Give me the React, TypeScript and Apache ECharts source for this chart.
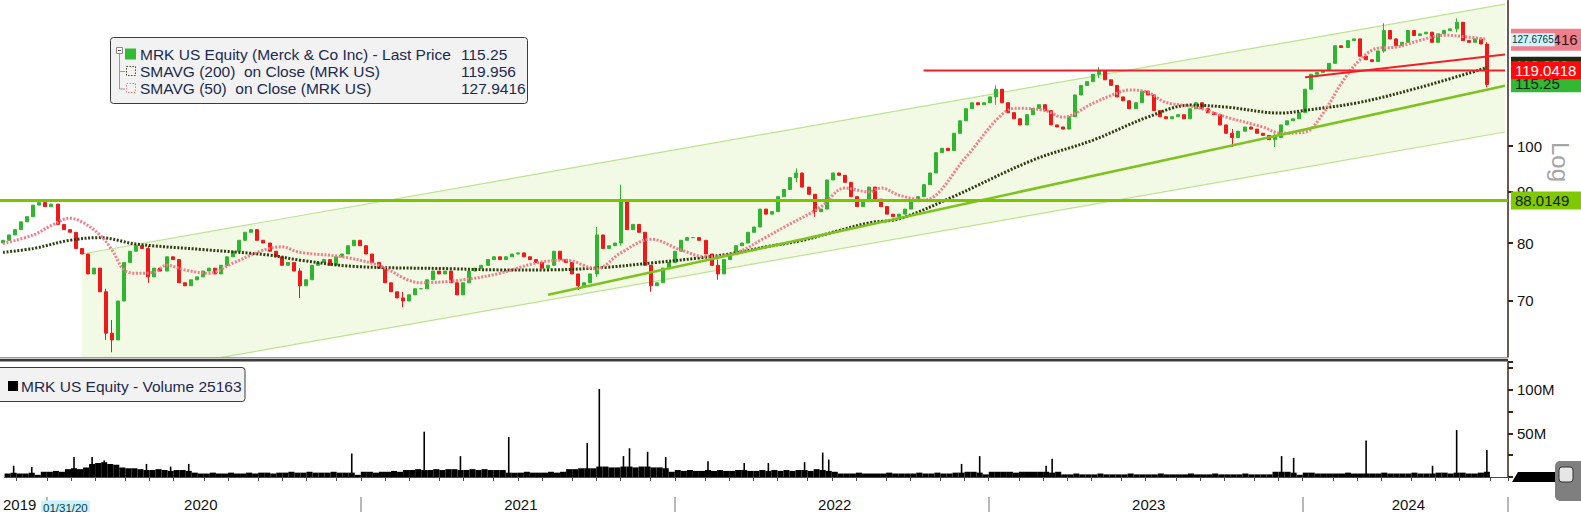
import React, { useEffect, useRef } from 'react';
import * as echarts from 'echarts';

const FONT = "'Liberation Sans', Arial, sans-serif";
const L = (p: number) => Math.log(p);

// ---- categories (weekly, Monday of each week) ----
const startMonday = '2019-11-18';
const categoryCount = 249; // 246 data weeks + 3 empty at the right

// ---- weekly prices (MRK) ----
const firstOpen = 80.0;
const closes = [
  80.5, 81.5, 82.5, 84, 85, 87.3, 87.8, 87, 87.5, 83.5,
  82.5, 82, 79, 78, 74.5, 75.5, 71.5, 65, 64, 70,
  76.5, 78.5, 79.5, 79, 74, 75.5, 75, 77.5, 77, 73,
  72.5, 73.5, 74, 75, 75.5, 74.5, 76, 77.5, 78.5, 80.5,
  82, 82.5, 80.5, 80, 78.5, 77.5, 76, 76.5, 75, 72.5,
  73.5, 76, 76.5, 77, 76, 77.5, 78, 79.5, 80.5, 79.5,
  78, 76.5, 75.5, 73, 71.5, 70.5, 70, 71, 72, 72,
  73.5, 75, 74.5, 75, 73, 71, 73, 75, 75.5, 76,
  77, 77.5, 77, 77.5, 78, 78.2, 77.5, 77, 76.5, 75.5,
  76, 78.5, 77, 76.5, 74.5, 72.5, 73, 74.5, 81.5, 79,
  79.5, 80, 88, 82.5, 83.5, 82, 76, 72.5, 73, 75.5,
  76.5, 78.5, 80.5, 81, 81, 80.5, 78, 76, 74.5, 77,
  78, 79.5, 80, 82, 83, 86.5, 85.5, 86, 89, 90.5,
  93, 94, 91, 89.5, 86, 86.5, 92.5, 94, 93.5, 92,
  89, 87, 88, 91, 88.5, 87, 85.5, 85, 85.5, 86.5,
  88, 89, 91.5, 94, 98.5, 99.5, 99, 103, 106, 109,
  110.5, 110, 110.5, 112, 114, 110.5, 108, 106.5, 105, 107.5,
  109, 110, 108.5, 105, 104.5, 104, 107, 112.5, 115, 116,
  118, 119, 116.5, 115, 112, 111, 109, 110.5, 113.5, 112.5,
  108.5, 107, 106.5, 107, 107.5, 106.5, 109, 110.5, 109, 108,
  107.5, 105, 103, 102, 103.5, 104.5, 104, 103, 102.5, 101.5,
  102, 105, 106, 106.5, 108, 114, 118, 118.5, 119, 121,
  126, 125.5, 127.5, 128, 123, 122, 121.5, 124.5, 130.5, 128,
  126, 127, 130.5, 129, 129.5, 130, 127, 129.5, 130.5, 131,
  133, 127.5, 127, 128, 126.5, 115.25,
];
// [week index, low, high] for weeks with visible wicks
const wickExtremes: [number, number, number][] = [
  [17, 64, 72], [18, 62.2, 67], [24, 73, 79.5], [49, 70.5, 75.5], [66, 69, 71.5],
  [95, 71.8, 74.5], [98, 74, 83], [102, 79.5, 91.5], [107, 71.5, 76], [118, 73.5, 77],
  [131, 92, 95], [134, 85, 89.5], [164, 110, 115], [181, 117, 120], [203, 99.8, 104],
  [210, 99.8, 103], [228, 124, 132.7], [240, 130, 134.2], [245, 114.5, 127],
];

// ---- moving averages: [week index, value] ----
const sma200Pts: [number, number][] = [
  [0, 78.3], [5, 79], [11, 80.5], [16, 81], [22, 79.8], [33, 78.8], [44, 77.8], [49, 76.9],
  [58, 75.8], [74, 75.4], [82, 75.2], [90, 75.2], [99, 75.6], [107, 76.4], [115, 77.3],
  [121, 78.2], [126, 79.3], [132, 80.5], [137, 82], [143, 83.8], [148, 84.6], [156, 88.5],
  [170, 96.8], [180, 101.4], [189, 106.9], [196, 109.9], [202, 109.4], [211, 107.9],
  [215, 108.6], [224, 110.6], [234, 114.5], [245, 119.8],
];
const sma50Pts: [number, number][] = [
  [0, 79.9], [5, 81.5], [8, 83.3], [11, 84.7], [13, 84], [16, 81.5], [18, 78.7], [20, 75.2],
  [22, 74.6], [25, 74.8], [27, 76], [30, 75.2], [34, 74.6], [38, 76.4], [43, 78.7], [46, 79.3],
  [49, 78.3], [56, 77.5], [62, 76], [69, 73], [76, 73.5], [82, 74.6], [88, 76.4], [93, 76.9],
  [98, 75.4], [102, 78.2], [107, 80.7], [112, 78.7], [116, 77.5], [121, 78.2], [126, 81.1],
  [129, 83], [135, 86.9], [139, 90.8], [143, 90], [145, 90.8], [148, 89.3], [152, 88.3],
  [159, 97.5], [164, 106.2], [167, 109.1], [172, 108.6], [175, 106.9], [180, 110.4],
  [184, 113], [186, 113.8], [189, 113.2], [192, 110.6], [197, 109.4], [202, 106.9],
  [208, 104.5], [211, 103], [215, 103.3], [218, 107.9], [221, 115.6], [224, 121.9],
  [227, 125.3], [230, 125.6], [234, 127.6], [238, 129.1], [242, 128.5], [245, 127.9],
];

// ---- volume (millions) ----
const volBase = [
  4, 5, 4, 4, 5, 2.5, 6, 6, 7, 6,
  9, 10, 9, 11, 15, 16, 17, 15, 14, 11,
  10, 10, 9, 8, 8, 9, 8, 7, 8, 8,
  7, 5, 4, 4, 5, 4, 4, 5, 4, 4,
  5, 4, 5, 5, 4, 5, 5, 6, 5, 5,
  6, 5, 5, 5, 6, 5, 5, 5, 2.5, 6,
  6, 5, 6, 6, 7, 6, 8, 8, 9, 8,
  8, 9, 8, 9, 9, 8, 8, 9, 8, 9,
  8, 8, 8, 5, 5, 5, 6, 5, 5, 5,
  6, 5, 6, 9, 9, 10, 10, 10, 12, 12,
  11, 11, 12, 12, 11, 12, 12, 11, 11, 10,
  6, 8, 7, 8, 7, 7, 8, 7, 8, 7,
  7, 8, 8, 7, 7, 8, 7, 8, 7, 8,
  7, 8, 8, 7, 9, 8, 7, 6, 4, 4,
  4, 5, 4, 4, 4, 4, 5, 4, 4, 4,
  4, 5, 4, 4, 5, 4, 4, 5, 5, 6,
  6, 5, 3, 6, 6, 6, 6, 5, 6, 6,
  6, 6, 6, 5, 6, 3, 3, 4, 3, 3,
  3, 4, 3, 3, 3, 3, 4, 3, 3, 3,
  3, 4, 3, 3, 3, 3, 4, 3, 3, 3,
  4, 3, 3, 3, 3, 4, 3, 3, 3, 3,
  6, 6, 6, 5, 2.5, 5, 5, 4, 4, 4,
  4, 4, 5, 4, 4, 4, 4, 4, 5, 4,
  4, 4, 4, 5, 4, 4, 4, 5, 5, 4,
  5, 5, 4, 4, 5, 6,
];
const volSpikes: [number, number][] = [
  [1, 13], [4, 11.5], [11, 23], [14, 23], [16, 19], [23, 15], [27, 12], [30, 15], [57, 27],
  [69, 52], [75, 24], [83, 46], [96, 39], [98, 101], [102, 24], [103, 33], [106, 29], [109, 23],
  [116, 18], [122, 16], [126, 16], [132, 17], [135, 28], [136, 20], [158, 15], [161, 24],
  [172, 13], [173, 21], [211, 24], [213, 22], [225, 42], [236, 13], [240, 54], [245, 31],
];

// ---- drawn studies ----
const channelUpper: [number, number][] = [[13, 78.0], [248, 138.7]];
const channelLower: [number, number][] = [[13, 58.1], [248, 103.3]];
const supportLine: [number, number][] = [[90, 71.0], [248, 114.9]];
const resistanceLine: [number, number][] = [[152, 119.0418], [248, 119.0418]];
const risingRedLine: [number, number][] = [[215, 117.2], [248, 123.5]];
const baseLevel = 88.0149;

// ---- axis ticks / labels ----
const priceTicks = [70, 80, 90, 100];
const priceMin = 61.53;
const priceMax = 140;
const volLabelled = [50, 100];
const yearLabels = ['2019', '2020', '2021', '2022', '2023', '2024'];
const yearLabelWeeks = ['2019-12-02', '2020-06-29', '2021-07-05', '2022-07-04', '2023-07-03', '2024-04-29'];

// ---- right-side value tags (drawn in this order) ----
const valueTags = [
  { value: 115.25, text: '115.25', bg: '#33b833', color: '#0f260f', size: 15 },
  { value: 119.956, text: '119.956', bg: '#1c2a10', color: '#ffffff', size: 15 },
  { value: 119.0418, text: '119.0418', bg: '#ff0a0a', color: '#ffffff', size: 15 },
  { value: 127.9416, text: '127.9416', bg: '#f07f8c', color: '#2a1414', size: 15 },
  { value: 127.6765, text: '127.6765', bg: '#ccf6ff', color: '#10303a', size: 10 },
];

function weekCategories(): string[] {
  const t0 = Date.parse(startMonday + 'T00:00:00Z');
  const out: string[] = [];
  for (let i = 0; i < categoryCount; i++) {
    out.push(new Date(t0 + i * 7 * 86400000).toISOString().slice(0, 10));
  }
  return out;
}

function buildOption() {
  const cats = weekCategories();
  const candleData = closes.map((c, i) => {
    const o = i === 0 ? firstOpen : closes[i - 1];
    let lo = Math.min(o, c);
    let hi = Math.max(o, c);
    const ex = wickExtremes.find((e) => e[0] === i);
    if (ex) {
      lo = Math.min(lo, ex[1]);
      hi = Math.max(hi, ex[2]);
    }
    return [L(o), L(c), L(lo), L(hi)];
  });
  const toLn = (pts: [number, number][]) => pts.map(([i, v]) => [i, L(v)]);
  const chLowerLn = toLn(channelLower);
  const chDiff = channelUpper.map(([i, v], k) => [i, L(v) - L(channelLower[k][1])]);

  const monthTick = (idx: number) => idx > 0 && cats[idx].slice(0, 7) !== cats[idx - 1].slice(0, 7);
  const yearTick = (idx: number) => idx > 0 && cats[idx].slice(0, 4) !== cats[idx - 1].slice(0, 4);
  const yearLabelIdx = (idx: number) => yearLabelWeeks.indexOf(cats[idx]) >= 0;

  const tagLines = [
    ...valueTags.slice(0, 3).map((t) => ({
      yAxis: L(t.value),
      lineStyle: { color: 'rgba(0,0,0,0)', width: 1 },
      label: {
        formatter: t.text, backgroundColor: t.bg, color: t.color, fontSize: t.size,
        padding: [2, 30, 1, 4],
      },
    })),
    {
      yAxis: L(baseLevel),
      lineStyle: { color: '#7cc400', width: 3, type: 'solid' },
      label: {
        formatter: String(baseLevel), backgroundColor: '#80c800', color: '#10200a', fontSize: 15,
        padding: [2, 30, 1, 4],
      },
    },
    ...valueTags.slice(3).map((t) => ({
      yAxis: L(t.value),
      lineStyle: { color: 'rgba(0,0,0,0)', width: 1 },
      label: {
        formatter: t.text, backgroundColor: t.bg, color: t.color, fontSize: t.size,
        padding: t.size < 13 ? [2, 1, 1, 1] : [4, 30, 3, 4],
      },
    })),
  ];

  const txt = (x: number, y: number, text: string, extra: any = {}) => ({
    type: 'text', x, y, z: 101,
    style: { text, fill: '#1c2a50', fontSize: 15.5, fontFamily: FONT, verticalAlign: 'middle', align: 'left', ...extra },
  });

  return {
    animation: false,
    backgroundColor: '#ffffff',
    grid: [
      { left: -2, width: 1510, top: 0, height: 357 },
      { left: -2, width: 1510, top: 362, height: 115 },
    ],
    xAxis: [
      { type: 'category', gridIndex: 0, data: cats, boundaryGap: true, show: false },
      {
        type: 'category', gridIndex: 1, data: cats, boundaryGap: true,
        axisLine: { show: true, lineStyle: { color: '#4a4a4a', width: 1 } },
        axisTick: { show: true, interval: monthTick, length: 4, lineStyle: { color: '#4a4a4a' } },
        axisLabel: { show: false }, splitLine: { show: false },
      },
      {
        type: 'category', gridIndex: 1, data: cats, boundaryGap: true, position: 'bottom', offset: 20,
        axisLine: { show: false },
        axisTick: { show: true, interval: yearTick, length: 16, lineStyle: { color: '#b8b8b8', width: 2 } },
        axisLabel: {
          show: true, interval: yearLabelIdx, margin: 0, fontSize: 15, color: '#111', fontFamily: FONT,
          formatter: (v: string) => {
            const k = yearLabelWeeks.indexOf(v);
            return k >= 0 ? yearLabels[k] : '';
          },
        },
        splitLine: { show: false },
      },
    ],
    yAxis: [
      {
        type: 'value', gridIndex: 0, position: 'right', min: L(priceMin), max: L(priceMax),
        axisLine: { show: true, lineStyle: { color: '#3b2417', width: 1.5 } },
        axisTick: { show: true, customValues: priceTicks.map(L), length: 5, lineStyle: { color: '#3b2417', width: 2 } },
        axisLabel: {
          show: true, customValues: priceTicks.map(L), margin: 9, fontSize: 15, color: '#111', fontFamily: FONT,
          formatter: (v: number) => String(Math.round(Math.exp(v))),
        },
        splitLine: { show: false },
      },
      {
        type: 'value', gridIndex: 1, position: 'right', min: 0, max: 132, interval: 25,
        axisLine: { show: true, lineStyle: { color: '#3b2417', width: 1.5 } },
        axisTick: { show: true, length: 5, lineStyle: { color: '#3b2417', width: 2 } },
        axisLabel: {
          margin: 9, fontSize: 15, color: '#111', fontFamily: FONT,
          formatter: (v: number) => (volLabelled.includes(v) ? v + 'M' : ''),
        },
        splitLine: { show: false },
      },
    ],
    series: [
      {
        name: 'channelLower', type: 'line', xAxisIndex: 0, yAxisIndex: 0, stack: 'channel',
        data: chLowerLn, symbol: 'none', silent: true, z: 1,
        lineStyle: { color: '#bde38f', width: 1.2 },
      },
      {
        name: 'channelUpper', type: 'line', xAxisIndex: 0, yAxisIndex: 0, stack: 'channel',
        data: chDiff, symbol: 'none', silent: true, z: 1,
        lineStyle: { color: '#bde38f', width: 1.2 },
        areaStyle: { color: '#f2f9e5', opacity: 1 },
      },
      {
        name: 'MRK', type: 'candlestick', xAxisIndex: 0, yAxisIndex: 0, data: candleData, barWidth: 3.5, z: 3,
        itemStyle: { color: '#2fb52f', color0: '#f01818', borderColor: '#2fb52f', borderColor0: '#f01818', borderWidth: 1 },
      },
      {
        name: 'SMAVG (200)', type: 'line', xAxisIndex: 0, yAxisIndex: 0, data: toLn(sma200Pts),
        smooth: 0.35, symbol: 'none', z: 4,
        lineStyle: { color: '#2e3d10', width: 3, type: [2, 1.6] },
      },
      {
        name: 'SMAVG (50)', type: 'line', xAxisIndex: 0, yAxisIndex: 0, data: toLn(sma50Pts),
        smooth: 0.35, symbol: 'none', z: 4,
        lineStyle: { color: '#f27c89', width: 3, type: [2, 1.6] },
      },
      {
        name: 'support', type: 'line', xAxisIndex: 0, yAxisIndex: 0, data: toLn(supportLine),
        symbol: 'none', z: 5, lineStyle: { color: '#7dc21f', width: 2.5 },
      },
      {
        name: 'resistance', type: 'line', xAxisIndex: 0, yAxisIndex: 0, data: toLn(resistanceLine),
        symbol: 'none', z: 5, lineStyle: { color: '#f0202a', width: 2 },
      },
      {
        name: 'risingRed', type: 'line', xAxisIndex: 0, yAxisIndex: 0, data: toLn(risingRedLine),
        symbol: 'none', z: 6, lineStyle: { color: '#f0202a', width: 2 },
        markLine: {
          silent: true, symbol: ['none', 'none'], z: 20,
          label: { show: true, position: 'end', distance: 3, fontFamily: FONT },
          data: tagLines,
        },
      },
      {
        name: 'Volume', type: 'bar', xAxisIndex: 1, yAxisIndex: 1, data: volBase,
        barCategoryGap: '0%', itemStyle: { color: '#000' }, silent: true,
      },
      {
        name: 'VolumeSpikes', type: 'bar', xAxisIndex: 2, yAxisIndex: 1, data: volSpikes,
        barWidth: 1.6, itemStyle: { color: '#000' }, silent: true,
      },
    ],
    graphic: [
      // panel separator
      { type: 'rect', z: 90, shape: { x: 0, y: 357, width: 1508, height: 1.5 }, style: { fill: '#9a9a9a' } },
      { type: 'rect', z: 90, shape: { x: 0, y: 359, width: 1508, height: 2.5 }, style: { fill: '#3c3c3c' } },
      // price legend
      { type: 'rect', z: 100, shape: { x: 110.5, y: 37.5, width: 417, height: 66, r: 3 }, style: { fill: '#f2f2f2', stroke: '#3c3c3c', lineWidth: 1 } },
      { type: 'rect', z: 101, shape: { x: 116.5, y: 47.5, width: 6, height: 6 }, style: { fill: '#fff', stroke: '#888', lineWidth: 1 } },
      { type: 'line', z: 101, shape: { x1: 118, y1: 50.5, x2: 121, y2: 50.5 }, style: { stroke: '#555', lineWidth: 1 } },
      { type: 'polyline', z: 101, shape: { points: [[119.5, 54], [119.5, 89], [125, 89]] }, style: { stroke: '#999', fill: 'none', lineWidth: 1 } },
      { type: 'line', z: 101, shape: { x1: 119.5, y1: 71.5, x2: 125, y2: 71.5 }, style: { stroke: '#999', lineWidth: 1 } },
      { type: 'rect', z: 101, shape: { x: 125, y: 48.5, width: 11, height: 11 }, style: { fill: '#33bb33' } },
      { type: 'rect', z: 101, shape: { x: 126.5, y: 66.5, width: 9, height: 9 }, style: { fill: 'none', stroke: '#3e4c1c', lineWidth: 1, lineDash: [1.5, 1.5] } },
      { type: 'rect', z: 101, shape: { x: 126.5, y: 83.5, width: 9, height: 9 }, style: { fill: 'none', stroke: '#f07f8c', lineWidth: 1, lineDash: [1.5, 1.5] } },
      txt(140, 54.5, 'MRK US Equity (Merck & Co Inc) - Last Price'),
      txt(461, 54.5, '115.25'),
      txt(140, 71.5, 'SMAVG (200)  on Close (MRK US)'),
      txt(461, 71.5, '119.956'),
      txt(140, 88.5, 'SMAVG (50)  on Close (MRK US)'),
      txt(461, 88.5, '127.9416'),
      // volume legend
      { type: 'rect', z: 100, shape: { x: -3, y: 367.5, width: 248, height: 34, r: 3 }, style: { fill: '#f2f2f2', stroke: '#3c3c3c', lineWidth: 1 } },
      { type: 'rect', z: 101, shape: { x: 8, y: 381, width: 10, height: 10 }, style: { fill: '#000' } },
      txt(21, 386, 'MRK US Equity - Volume 25163'),
      // axis scale name
      {
        type: 'text', z: 101, x: 1560, y: 162, rotation: -Math.PI / 2,
        style: { text: 'Log', fill: '#a5a5a5', fontSize: 24, fontFamily: FONT, align: 'center', verticalAlign: 'middle' },
      },
      // start date marker
      {
        type: 'text', z: 101, x: 41, y: 507.5,
        style: { text: '01/31/20', fill: '#0e3b4d', fontSize: 11.5, fontFamily: FONT, backgroundColor: '#c8f2f9', padding: [1, 2, 1, 2], verticalAlign: 'middle' },
      },
      // bottom-right controls
      { type: 'polygon', z: 101, shape: { points: [[1512, 482], [1518, 472], [1560, 472], [1560, 482]] }, style: { fill: '#000' } },
      { type: 'rect', z: 102, shape: { x: 1555, y: 461, width: 32, height: 40, r: 5 }, style: { fill: '#7f7f7f' } },
      { type: 'rect', z: 103, shape: { x: 1559, y: 467, width: 14, height: 15, r: 3 }, style: { fill: '#e6e6e6', stroke: '#333', lineWidth: 1 } },
    ],
  };
}

export default function App() {
  const ref = useRef<HTMLDivElement>(null);
  useEffect(() => {
    if (!ref.current) return;
    const chart = echarts.init(ref.current, null, { renderer: 'svg' });
    chart.setOption(buildOption() as any);
    return () => chart.dispose();
  }, []);
  return (
    <div
      ref={ref}
      style={{ position: 'fixed', left: 0, top: 0, width: 1581, height: 512, background: '#fff' }}
    />
  );
}
